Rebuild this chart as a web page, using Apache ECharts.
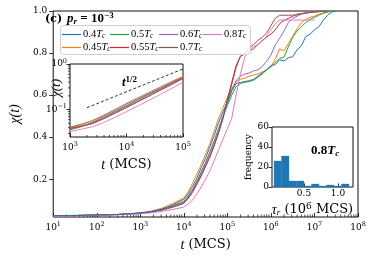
<!DOCTYPE html>
<html><head><meta charset="utf-8">
<script src="https://cdn.jsdelivr.net/npm/echarts@6/dist/echarts.min.js"></script>
<style>html,body{margin:0;padding:0;background:#fff}#c{width:374px;height:257px}</style>
</head><body><div id="c"></div>
<script>
// ---- main panel data: log10(t) grid and chi(t) per temperature ----
const logT = [1.0,1.5,2.0,2.5,3.0,3.25,3.5,3.75,4.0,4.1,4.2,4.3,4.4,4.5,4.6,4.7,4.8,4.9,5.0,5.1,5.2,5.3,5.4,5.5,5.6,5.7,5.8,5.9,6.0,6.1,6.2,6.3,6.4,6.5,6.6,6.7,6.8,6.9,7.0,7.1,7.2,7.3,7.4,7.5];
const chi040 = [0.026,0.027,0.029,0.032,0.039,0.046,0.058,0.078,0.105,0.13,0.165,0.205,0.255,0.30,0.355,0.41,0.47,0.52,0.57,0.62,0.655,0.66,0.665,0.668,0.675,0.69,0.705,0.72,0.74,0.745,0.768,0.762,0.778,0.782,0.815,0.835,0.878,0.89,0.91,0.925,0.955,0.98,0.995,1.0];
const chi045 = [0.026,0.027,0.029,0.033,0.040,0.048,0.062,0.085,0.11,0.14,0.18,0.225,0.27,0.32,0.37,0.43,0.49,0.54,0.59,0.63,0.665,0.675,0.68,0.69,0.695,0.70,0.71,0.72,0.735,0.77,0.82,0.81,0.845,0.88,0.915,0.945,0.96,0.97,0.975,0.985,0.99,0.995,1.0,null];
const chi050 = [0.026,0.027,0.029,0.032,0.038,0.045,0.056,0.074,0.095,0.12,0.15,0.19,0.235,0.28,0.33,0.385,0.44,0.50,0.55,0.60,0.64,0.655,0.66,0.665,0.67,0.685,0.70,0.72,0.735,0.755,0.775,0.78,0.83,0.875,0.905,0.925,0.945,0.96,0.97,0.98,0.99,0.995,1.0,null];
const chi055 = [0.026,0.027,0.029,0.032,0.038,0.044,0.054,0.068,0.085,0.11,0.14,0.18,0.22,0.265,0.31,0.365,0.425,0.49,0.58,0.66,0.74,0.785,0.795,0.81,0.82,0.84,0.86,0.875,0.89,0.91,0.94,0.955,0.965,0.975,0.985,0.987,0.99,0.993,0.995,0.997,1.0,null,null,null];
const chi060 = [0.026,0.027,0.029,0.032,0.038,0.045,0.055,0.072,0.09,0.115,0.148,0.188,0.23,0.275,0.325,0.38,0.44,0.50,0.56,0.62,0.67,0.69,0.70,0.705,0.715,0.72,0.735,0.76,0.79,0.84,0.87,0.905,0.945,0.965,0.975,0.988,0.992,0.995,0.997,0.998,1.0,null,null,null];
const chi070 = [0.026,0.027,0.029,0.032,0.038,0.044,0.053,0.067,0.085,0.108,0.138,0.175,0.215,0.26,0.305,0.36,0.42,0.49,0.57,0.65,0.73,0.785,0.80,0.825,0.84,0.86,0.875,0.895,0.93,0.965,0.98,0.98,0.98,0.98,0.981,0.985,0.99,0.993,0.995,0.997,0.998,1.0,null,null];
const chi080 = [0.024,0.025,0.027,0.030,0.035,0.040,0.047,0.056,0.067,0.082,0.10,0.13,0.163,0.20,0.24,0.29,0.34,0.39,0.44,0.49,0.60,0.70,0.78,0.815,0.83,0.84,0.855,0.88,0.91,0.94,0.957,0.957,0.957,0.957,0.957,0.957,0.957,0.957,0.957,null,null,null,null,null];

// ---- inset (log-log) data ----
const insetLogT = [3.0,3.2,3.4,3.6,3.8,4.0,4.2,4.4,4.6,4.8,5.0];
const in040 = [0.041,0.048,0.057,0.074,0.098,0.132,0.175,0.23,0.30,0.40,0.52];
const in045 = [0.040,0.047,0.058,0.076,0.102,0.138,0.182,0.24,0.316,0.417,0.537];
const in050 = [0.036,0.042,0.052,0.068,0.090,0.120,0.160,0.215,0.285,0.38,0.50];
const in055 = [0.039,0.044,0.050,0.064,0.085,0.113,0.150,0.20,0.27,0.36,0.49];
const in060 = [0.037,0.043,0.053,0.070,0.092,0.123,0.165,0.22,0.29,0.385,0.51];
const in070 = [0.038,0.043,0.049,0.063,0.083,0.110,0.148,0.198,0.265,0.355,0.48];
const in080 = [0.033,0.037,0.042,0.052,0.068,0.090,0.120,0.16,0.215,0.29,0.40];
const guideT = [2000, 100000];
const guideChi = [0.11, 0.78];

// ---- histogram (0.8 Tc) ----
const binEdges = [0.06,0.17,0.28,0.39,0.50,0.61,0.72,0.83,0.94,1.05,1.16];
const binCounts = [26,31,6,6,1,3,1,2,1,3];

const tempNames = ['0.4','0.45','0.5','0.55','0.6','0.7','0.8'];
const colors = ['#1f77b4','#ff7f0e','#2ca02c','#d62728','#9467bd','#8c564b','#e377c2'];
const mainSets = [chi040,chi045,chi050,chi055,chi060,chi070,chi080];
const insetSets = [in040,in045,in050,in055,in060,in070,in080];

const SERIF = 'DejaVu Serif';
const MATH = 'Liberation Serif';
const supRich = {
  b: {fontFamily: SERIF, fontSize: 9, color: '#000'},
  s: {fontFamily: SERIF, fontSize: 6.5, color: '#000', padding: [0,0,6,0]}
};
function powLabel(v) {
  const le = Math.log10(v);
  const e = Math.round(le);
  if (Math.abs(le - e) > 1e-6) return '';
  return '{b|10}{s|' + String(e).replace('-', '\u2212') + '}';
}
function minorTicks(lo, hi) {
  const out = [];
  for (let k = lo; k < hi; k++) for (let m = 2; m <= 9; m++) out.push(m * Math.pow(10, k));
  return out;
}

const chart = echarts.init(document.getElementById('c'), null, {renderer: 'canvas'});
const series = [];
mainSets.forEach((arr, i) => {
  series.push({
    type: 'line', name: tempNames[i], xAxisIndex: 0, yAxisIndex: 0,
    data: logT.map((e, j) => arr[j] == null ? null : [Math.pow(10, e), arr[j]]).filter(d => d),
    symbol: 'none', lineStyle: {width: 1, color: colors[i]}, itemStyle: {color: colors[i]},
    z: 2 + (i === 0 ? 0.5 : 0)
  });
});
insetSets.forEach((arr, i) => {
  series.push({
    type: 'line', name: 'in' + tempNames[i], xAxisIndex: 1, yAxisIndex: 1, zlevel: 1,
    data: insetLogT.map((e, j) => [Math.pow(10, e), arr[j]]),
    symbol: 'none', lineStyle: {width: 0.9, color: colors[i]}, silent: true
  });
});
series.push({
  type: 'line', name: 'guide', xAxisIndex: 1, yAxisIndex: 1, zlevel: 1,
  data: guideT.map((t, j) => [t, guideChi[j]]), symbol: 'none',
  lineStyle: {width: 0.8, color: '#000', type: [3, 2]}
});
series.push({
  type: 'custom', name: 'hist', xAxisIndex: 2, yAxisIndex: 2, zlevel: 1,
  data: binCounts.map((c, i) => [binEdges[i], binEdges[i + 1], c]),
  encode: {x: [0, 1], y: 2},
  renderItem: function (params, api) {
    const p0 = api.coord([api.value(0), api.value(2)]);
    const p1 = api.coord([api.value(1), 0]);
    return {type: 'rect', shape: {x: p0[0], y: p0[1], width: p1[0] - p0[0], height: p1[1] - p0[1]},
      style: {fill: '#1f77b4', stroke: '#1f77b4', lineWidth: 0.3}};
  }
});
function xTickSeries(xi, yi, vals, yval, len, zl) {
  return {
    type: 'custom', xAxisIndex: xi, yAxisIndex: yi, zlevel: zl, silent: true,
    data: vals.map(v => [v, yval]),
    renderItem: function (params, api) {
      const p = api.coord([api.value(0), api.value(1)]);
      return {type: 'line', shape: {x1: p[0], y1: p[1], x2: p[0], y2: p[1] - len},
        style: {stroke: '#000', lineWidth: 0.7}};
    }
  };
}
function yTickSeries(xi, yi, vals, xval, len, zl) {
  return {
    type: 'custom', xAxisIndex: xi, yAxisIndex: yi, zlevel: zl, silent: true, clip: false,
    data: vals.map(v => [xval, v]),
    renderItem: function (params, api) {
      const p = api.coord([api.value(0), api.value(1)]);
      return {type: 'line', shape: {x1: p[0], y1: p[1], x2: p[0] - len, y2: p[1]},
        style: {stroke: '#000', lineWidth: 0.7}};
    }
  };
}
series.push(xTickSeries(0, 0, minorTicks(1, 8), 0.02, 2.5, 0));
series.push(xTickSeries(1, 1, minorTicks(3, 5), 0.025, 2, 1));
series.push(yTickSeries(1, 1, minorTicks(-2, 0).filter(v => v > 0.025), 1e3, 2, 1));

function legendCol(left, data) {
  return {
    data: data, left: left, top: 29, orient: 'vertical', padding: 0,
    icon: 'rect', itemWidth: 19, itemHeight: 1.2, itemGap: 1.5,
    formatter: n => '{n|' + n + '}{i|T}{c|c}',
    textStyle: {fontFamily: MATH, fontSize: 10.5, color: '#000', padding: [0,0,0,-3],
      rich: {n: {fontFamily: MATH, fontSize: 10.5},
             i: {fontFamily: MATH, fontSize: 10.5, fontStyle: 'italic'},
             c: {fontFamily: MATH, fontSize: 7.5, fontStyle: 'italic', padding: [4,0,0,0]}}}
  };
}

const option = {
  animation: false,
  backgroundColor: '#fff',
  grid: [
    {left: 43, top: 11, width: 315, height: 206, show: true, borderColor: '#111', borderWidth: 1, backgroundColor: 'transparent'},
    {left: 70, top: 64, width: 113, height: 73, show: true, borderColor: '#111', borderWidth: 1, backgroundColor: '#fff', zlevel: 1},
    {left: 272, top: 127, width: 81, height: 60, show: true, borderColor: '#111', borderWidth: 1, backgroundColor: '#fff', zlevel: 1}
  ],
  xAxis: [
    {gridIndex: 0, type: 'log', logBase: 10, min: 10, max: 1e8, splitNumber: 7,
     axisLine: {show: false}, splitLine: {show: false},
     axisTick: {inside: true, length: 4, lineStyle: {color: '#000', width: 0.8}},
     axisLabel: {formatter: powLabel, rich: supRich, margin: 4},
     name: '{i|t} (MCS)', nameLocation: 'middle', nameGap: 21,
     nameTextStyle: {fontFamily: SERIF, fontSize: 13, color: '#000',
       rich: {i: {fontFamily: MATH, fontStyle: 'italic', fontSize: 14, color: '#000'}}}},
    {gridIndex: 1, type: 'log', logBase: 10, min: 1e3, max: 1e5, splitNumber: 2, zlevel: 1,
     axisLine: {show: false}, splitLine: {show: false},
     axisTick: {inside: true, length: 3.5, lineStyle: {color: '#000', width: 0.8}},
     axisLabel: {formatter: powLabel, rich: supRich, margin: 4},
     name: '{i|t} (MCS)', nameLocation: 'middle', nameGap: 21,
     nameTextStyle: {fontFamily: SERIF, fontSize: 13, color: '#000',
       rich: {i: {fontFamily: MATH, fontStyle: 'italic', fontSize: 14, color: '#000'}}}},
    {gridIndex: 2, type: 'value', min: 0.03, max: 1.22, zlevel: 1,
     axisLine: {show: false}, splitLine: {show: false},
     axisTick: {inside: true, length: 3.5, customValues: [0.5, 1.0], lineStyle: {color: '#000', width: 0.8}},
     axisLabel: {customValues: [0.5, 1.0], formatter: v => v.toFixed(1), fontFamily: SERIF, fontSize: 9, color: '#000', margin: 2},
     name: '{i|\u03c4}{s|r} (10{p|6} MCS)', nameLocation: 'middle', nameGap: 15,
     nameTextStyle: {fontFamily: SERIF, fontSize: 13, color: '#000',
       rich: {i: {fontFamily: MATH, fontStyle: 'italic', fontSize: 14, color: '#000'},
              s: {fontFamily: MATH, fontStyle: 'italic', fontSize: 9, color: '#000', padding: [5,0,0,0]},
              p: {fontFamily: SERIF, fontSize: 9, color: '#000', padding: [0,0,7,0]}}}}
  ],
  yAxis: [
    {gridIndex: 0, type: 'value', min: 0.02, max: 1.0,
     axisLine: {show: false}, splitLine: {show: false},
     axisTick: {length: 4, customValues: [0.2, 0.4, 0.6, 0.8, 1.0], lineStyle: {color: '#000', width: 0.8}},
     axisLabel: {customValues: [0.2, 0.4, 0.6, 0.8, 1.0], formatter: v => v.toFixed(1), fontFamily: SERIF, fontSize: 9, color: '#000', margin: 6},
     name: '{i|\u03c7(t)}', nameLocation: 'middle', nameGap: 27, nameRotate: 90,
     nameTextStyle: {color: '#000', rich: {i: {fontFamily: MATH, fontStyle: 'italic', fontSize: 14, color: '#000'}}}},
    {gridIndex: 1, type: 'log', logBase: 10, min: 0.025, max: 1, splitNumber: 2, zlevel: 1,
     axisLine: {show: false}, splitLine: {show: false},
     axisTick: {length: 3.5, lineStyle: {color: '#000', width: 0.8}},
     axisLabel: {formatter: powLabel, rich: supRich, margin: 3, showMinLabel: false}},
    {gridIndex: 2, type: 'value', min: 0, max: 60, interval: 20, zlevel: 1,
     axisLine: {show: false}, splitLine: {show: false},
     axisTick: {length: 3.5, lineStyle: {color: '#000', width: 0.8}},
     axisLabel: {fontFamily: SERIF, fontSize: 9, color: '#000', margin: 3},
     name: 'frequency', nameLocation: 'middle', nameGap: 14, nameRotate: 90,
     nameTextStyle: {fontFamily: SERIF, fontSize: 9, color: '#000'}}
  ],
  legend: [
    legendCol(62, ['0.4', '0.45']),
    legendCol(110, ['0.5', '0.55']),
    legendCol(159, ['0.6', '0.7']),
    legendCol(203, ['0.8'])
  ],
  title: [
    {left: 45, top: 10, padding: 0,
     text: '{b|(c)} {i|p}{sub|r}{n| = 10}{sup|\u22123}',
     textStyle: {rich: {
       b: {fontFamily: SERIF, fontWeight: 'bold', fontSize: 11, color: '#000'},
       i: {fontFamily: MATH, fontStyle: 'italic', fontSize: 13, color: '#000'},
       sub: {fontFamily: MATH, fontStyle: 'italic', fontSize: 9, color: '#000', padding: [5,0,0,0]},
       n: {fontFamily: MATH, fontSize: 13, color: '#000'},
       sup: {fontFamily: MATH, fontSize: 9, color: '#000', padding: [0,0,7,0]}}}},
    {left: 122, top: 75, padding: 0, zlevel: 1,
     text: '{i|t}{s|1/2}',
     textStyle: {rich: {
       i: {fontFamily: MATH, fontStyle: 'italic', fontSize: 13, color: '#000'},
       s: {fontFamily: MATH, fontSize: 9, color: '#000', padding: [0,0,7,0]}}}},
    {left: 311, top: 144, padding: 0, zlevel: 1,
     text: '{n|0.8}{i|T}{c|c}',
     textStyle: {rich: {
       n: {fontFamily: MATH, fontSize: 13, color: '#000'},
       i: {fontFamily: MATH, fontStyle: 'italic', fontSize: 13, color: '#000'},
       c: {fontFamily: MATH, fontStyle: 'italic', fontSize: 9, color: '#000', padding: [5,0,0,0]}}}}
  ],
  graphic: [
    {type: 'rect', left: 60, top: 25, z: 3,
     shape: {width: 190, height: 29, r: 3},
     style: {fill: 'rgba(255,255,255,0.85)', stroke: '#cfcfcf', lineWidth: 1}},
    {type: 'text', x: 57, y: 88, rotation: Math.PI / 2, zlevel: 1, z: 10,
     style: {text: '{i|\u03c7(t)}', align: 'center', verticalAlign: 'middle',
       rich: {i: {fontFamily: MATH, fontStyle: 'italic', fontSize: 13, fill: '#000'}}}}
  ],
  series: series
};
chart.setOption(option);
</script></body></html>
